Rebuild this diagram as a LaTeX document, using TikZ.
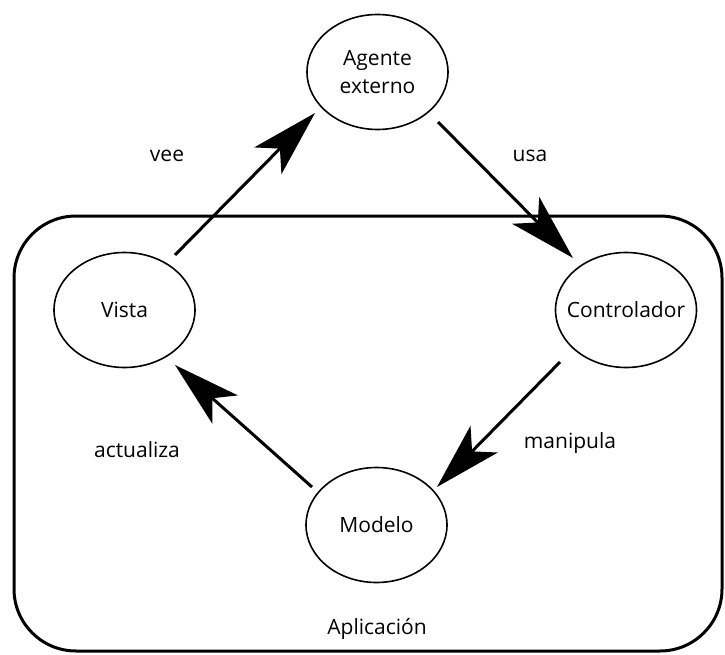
\documentclass[tikz,border=0pt]{standalone}
\usepackage{fontspec}
\setmainfont{Open Sans}
\usetikzlibrary{arrows.meta,shapes.geometric}
\begin{document}
\begin{tikzpicture}[x=1pt,y=-1pt,
  ell/.style={draw,ellipse,line width=1.6pt,minimum width=141pt,minimum height=115pt,inner xsep=-15pt,inner ysep=0pt,font=\fontsize{21}{23}\selectfont,align=center},
  lbl/.style={font=\fontsize{21}{23}\selectfont,inner sep=0pt},
  arr/.style={line width=3pt,-{Stealth[length=67pt,width=38pt,inset=17pt]}},
  box/.style={draw,line width=3pt,rounded corners=62pt,minimum width=708pt,minimum height=435pt,inner sep=0pt}]
\useasboundingbox (0,0) rectangle (725,655);
\node[box] (app) at (368,433.5) {};
\node[ell] (agente) at (377.5,72) {Agente\\[5pt]externo};
\node[ell] (vista) at (124.5,310) {Vista};
\node[ell] (controlador) at (626,310) {Controlador};
\node[ell] (modelo) at (376.5,525) {Modelo};
\node[lbl] (vee) at (167,156) {vee};
\node[lbl] (usa) at (530,156) {usa};
\node[lbl] (actualiza) at (137,450) {actualiza};
\node[lbl] (manipula) at (570,443) {manipula};
\node[lbl] (aplic) at (377,629) {Aplicación};
\draw[arr] ([shift={(50.5pt,55pt)}]vista.center) -- ([shift={(-62.5pt,-41pt)}]agente.center);
\draw[arr] ([shift={(60.5pt,-50pt)}]agente.center) -- ([shift={(-53pt,52pt)}]controlador.center);
\draw[arr] ([shift={(-66pt,-52pt)}]controlador.center) -- ([shift={(60.5pt,38pt)}]modelo.center);
\draw[arr] ([shift={(-64.5pt,38pt)}]modelo.center) -- ([shift={(50.5pt,-55pt)}]vista.center);
\end{tikzpicture}
\end{document}
